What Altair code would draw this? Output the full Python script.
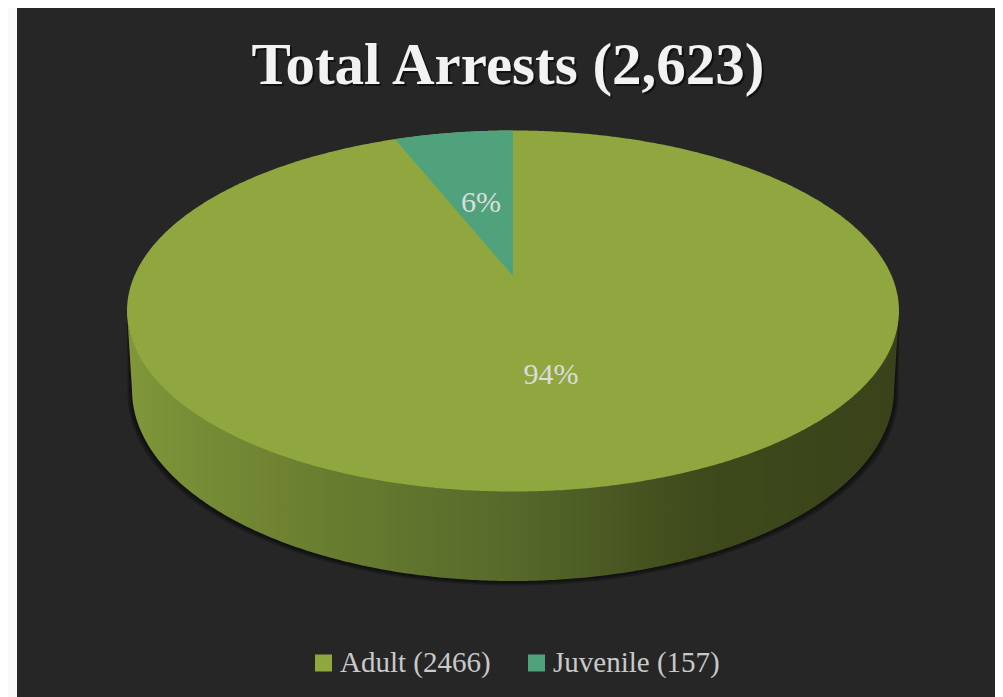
import numpy as np
import pandas as pd
import altair as alt

# Values
categories = ["Adult (2466)", "Juvenile (157)"]
counts = [2466, 157]
percent_labels = ["94%", "6%"]
slice_colors = ["#90a73f", "#4fa27c"]
title_text = "Total Arrests (2,623)"

# Tilted-pie drawing parameters, in picture pixels
W, H = 987, 689
X0, X1, Y0, Y1 = 8, 995, 8, 697
CX, TOP_CY, TOP_A, TOP_B = 513, 311, 386, 180.5
BOT_CY, BOT_A, BOT_B = 390, 381, 191
APEX_Y = 276
PERSPECTIVE = 0.827  # foreshortening of the slice angle in the tilted view

x_scale = alt.Scale(domain=[X0, X1], nice=False, zero=False)
y_scale = alt.Scale(domain=[Y1, Y0], nice=False, zero=False)
X = alt.X("x:Q", scale=x_scale, axis=None)
Y = alt.Y("y:Q", scale=y_scale, axis=None)
Y2 = alt.Y2("y2:Q")

share = counts[1] / sum(counts)
t = np.linspace(np.pi, 0, 361)
xs = CX + TOP_A * np.cos(t)
half = TOP_B * np.sin(t)

# Top face: whole ellipse
top = pd.DataFrame({"x": xs, "y": TOP_CY - half, "y2": TOP_CY + half,
                    "series": categories[0]})

# Juvenile slice: from the ellipse rim down to the apex
sweep = 2 * np.pi * share * PERSPECTIVE
wx0 = CX - TOP_A * np.sin(sweep)
wy0 = TOP_CY - TOP_B * np.cos(sweep)
wx = np.linspace(wx0, CX, 80)
wedge = pd.DataFrame({
    "x": wx,
    "y": TOP_CY - TOP_B * np.sqrt(1 - ((wx - CX) / TOP_A) ** 2),
    "y2": wy0 + (APEX_Y - wy0) * (wx - wx0) / (CX - wx0),
    "series": categories[1],
})


def wall_bottom(x, grow=0.0):
    d = np.abs(x - CX)
    a = BOT_A + grow
    inner = BOT_CY + grow + BOT_B * np.sqrt(np.clip(1 - (d / a) ** 2, 0, 1))
    yfrom = BOT_CY + grow
    out = d > a
    frac = np.clip((d - a) / max(TOP_A - a, 1e-6), 0, 1)
    return np.where(out, yfrom + (TOP_CY - yfrom) * frac, inner)


# the wall starts slightly under the top face so no seam shows
wall = pd.DataFrame({"x": xs, "y": TOP_CY + half * 0.98, "y2": wall_bottom(xs)})

shadow_rows = []
for g in [1.5, 3, 4.5]:
    xg = CX + (TOP_A + g * 0.6) * np.cos(t)
    shadow_rows.append(pd.DataFrame({
        "x": xg, "y": TOP_CY + 0 * xg,
        "y2": wall_bottom(np.clip(xg, CX - TOP_A, CX + TOP_A), g), "ring": g}))
shadow = pd.concat(shadow_rows)

stops = [(127, "#80973a"), (200, "#778c36"), (300, "#6c8031"), (513, "#56692a"),
         (640, "#465420"), (700, "#3e4a1b"), (899, "#39421a")]
wall_grad = alt.Gradient(
    gradient="linear", x1=0, x2=1, y1=0, y2=0,
    stops=[alt.GradientStop(offset=(p - 127) / 772, color=c) for p, c in stops],
)

panel = alt.Chart(pd.DataFrame({"x": [17], "x2": [X1], "y": [Y0], "y2": [Y1]})).mark_rect(
    color="#262626").encode(x=X, x2="x2:Q", y=Y, y2=Y2)

color = alt.Color(
    "series:N",
    scale=alt.Scale(domain=categories, range=slice_colors),
    legend=alt.Legend(
        title=None, orient="none", legendX=301, legendY=637, direction="horizontal",
        columns=2, symbolType="square", symbolSize=289, symbolStrokeWidth=0,
        symbolOpacity=1, labelFont="Liberation Serif", labelFontSize=29,
        labelColor="#c9c9c9", labelOffset=2, columnPadding=31, padding=0,
        labelLimit=300, clipHeight=36,
    ),
)

shadow_layer = alt.Chart(shadow).mark_area(color="#000000", opacity=0.22).encode(
    x=X, y=Y, y2=Y2, detail="ring:N")
wall_layer = alt.Chart(wall).mark_area(color=wall_grad).encode(x=X, y=Y, y2=Y2)
top_layer = alt.Chart(top).mark_area().encode(x=X, y=Y, y2=Y2, color=color)
wedge_layer = alt.Chart(wedge).mark_area().encode(x=X, y=Y, y2=Y2, color=color)

labels = pd.DataFrame({"x": [551, 481], "y": [375, 203], "label": percent_labels})
label_layer = alt.Chart(labels).mark_text(
    font="Liberation Serif", fontSize=30, color="#dcdcdc", baseline="middle", align="center"
).encode(x=X, y=Y, text="label:N")

tdf = pd.DataFrame({"x": [508], "y": [84], "label": [title_text]})
title_shadow = alt.Chart(tdf).mark_text(
    font="Liberation Serif", fontSize=59, fontWeight="bold", color="#000000", opacity=0.55,
    dx=2, dy=2, align="center", baseline="alphabetic"
).encode(x=X, y=Y, text="label:N")
title_layer = alt.Chart(tdf).mark_text(
    font="Liberation Serif", fontSize=59, fontWeight="bold", color="#f2f2f2",
    align="center", baseline="alphabetic"
).encode(x=X, y=Y, text="label:N")

chart = alt.layer(
    panel, shadow_layer, wall_layer, top_layer, wedge_layer,
    label_layer, title_shadow, title_layer,
).properties(
    width=W, height=H, padding=0, background="#ffffff",
).configure_view(stroke=None, fill="#f9f9f9")

chart.save("out.html", embed_options={"renderer": "svg", "actions": False})
